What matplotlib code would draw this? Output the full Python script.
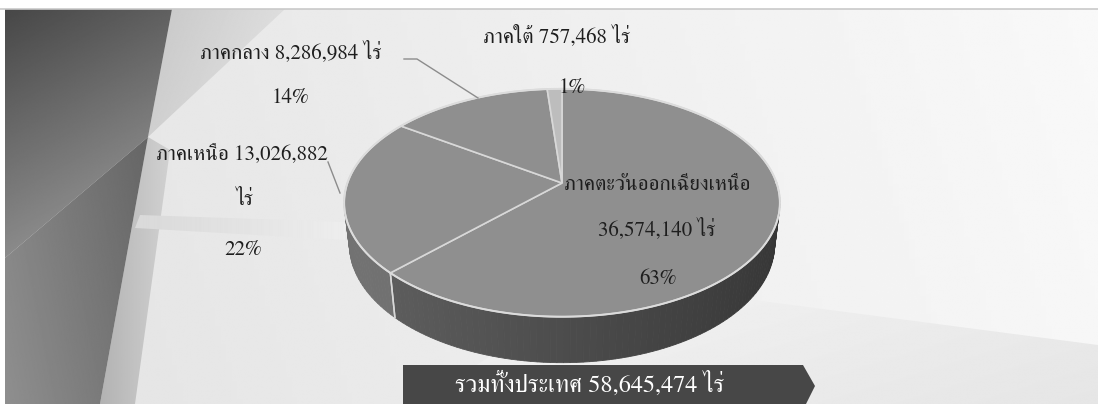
import numpy as np
import matplotlib
matplotlib.use("Agg")
import matplotlib.pyplot as plt
from matplotlib.patches import Polygon

plt.rcParams["font.family"] = ["FreeSerif", "DejaVu Sans"]

# rai of farmland per region (clockwise from 12 o'clock)
regions = ["ภาคตะวันออกเฉียงเหนือ", "ภาคเหนือ", "ภาคกลาง", "ภาคใต้"]
rai = [36574140, 13026882, 8286984, 757468]
pct_labels = ["63%", "22%", "14%", "1%"]
total_label = "รวมทั้งประเทศ"
unit = "ไร่"

W, H = 1098, 404
fig = plt.figure(figsize=(W / 100, H / 100), dpi=100)
fig.patch.set_facecolor("white")
ax = fig.add_axes([0, 0, 1, 1])


def gradient_poly(verts, c0, c1, direction, zorder=0):
    """Fill a polygon with a linear grey gradient running along `direction`."""
    verts = np.asarray(verts, dtype=float)
    poly = Polygon(verts, closed=True, facecolor="none", edgecolor="none")
    ax.add_patch(poly)
    x0, y0 = verts.min(axis=0)
    x1, y1 = verts.max(axis=0)
    gx, gy = np.meshgrid(np.linspace(x0, x1, 200), np.linspace(y0, y1, 200))
    d = np.asarray(direction, float)
    d /= np.hypot(*d)
    t = gx * d[0] + gy * d[1]
    t = (t - t.min()) / (t.max() - t.min())
    val = c0 + (c1 - c0) * t
    im = ax.imshow(val, cmap="gray", vmin=0, vmax=1, extent=(x0, x1, y1, y0),
                   origin="upper", interpolation="bilinear", zorder=zorder)
    im.set_clip_path(poly)


# background
gradient_poly([(5, 9), (W, 9), (W, H), (5, H)], 0.89, 0.975, (1, -0.3), zorder=0)
gradient_poly([(600, 280), (W, 345), (W, H), (420, H)], 0.955, 0.90, (0.3, 1), zorder=0.5)
gradient_poly([(172, 9), (285, 9), (148, 137)], 0.78, 0.90, (1, 0.4), zorder=1)
gradient_poly([(148, 137), (170, 150), (135, H), (100, H)], 0.70, 0.82, (1, 0), zorder=1)
gradient_poly([(140, 215), (345, 222), (345, 240), (135, 228)], 0.85, 0.93, (1, 0), zorder=1)
gradient_poly([(5, 9), (172, 9), (148, 137), (5, 258)], 0.28, 0.64, (0.55, 1), zorder=2)
gradient_poly([(5, 258), (148, 137), (100, H), (5, H)], 0.56, 0.40, (1, -0.2), zorder=2)
ax.plot([0, W], [8.5, 8.5], color="#c9c9c9", lw=1.2, zorder=3)

# projected 3-D pie
PHI = np.radians(31)
DIST = 4.94
THICK = 0.23
K = 1060
CX, CY = 562, 183


def project(theta_deg, z=0.0):
    th = np.radians(theta_deg)
    x, y = np.cos(th), np.sin(th)
    u = y * np.sin(PHI) + z * np.cos(PHI)
    w = DIST + y * np.cos(PHI) - z * np.sin(PHI)
    return CX + K * x / w, CY - K * u / w


fracs = np.array(rai) / sum(rai)
starts = 90 - 360 * np.concatenate([[0], np.cumsum(fracs)[:-1]])
ends = 90 - 360 * np.cumsum(fracs)

top_grey = ["#8f8f8f", "#8f8f8f", "#8f8f8f", "#bdbdbd"]
wall_range = [(0.21, 0.39), (0.40, 0.45), (0.45, 0.50), (0.6, 0.7)]
edge = "#d8d8d8"

# side walls
for i in range(len(rai)):
    lo, hi = max(ends[i], -180), min(starts[i], 0)
    if lo >= hi:
        continue
    steps = np.linspace(lo, hi, int((hi - lo) / 1.5) + 2)
    for a, b in zip(steps[:-1], steps[1:]):
        xa, ya = project(a)
        xb, yb = project(b)
        xc, yc = project(b, -THICK)
        xd, yd = project(a, -THICK)
        t = (1 - np.cos(np.radians((a + b) / 2))) / 2
        g = wall_range[i][0] + (wall_range[i][1] - wall_range[i][0]) * t
        ax.add_patch(Polygon([(xa, ya), (xb, yb), (xc, yc), (xd, yd)],
                             facecolor=str(g), edgecolor=str(g), lw=0.6, zorder=5))
    # light seam where two walls meet
    for ang in (lo, hi):
        if ang in (ends[i], starts[i]) and -180 < ang < 0:
            x0, y0 = project(ang)
            x1, y1 = project(ang, -THICK)
            ax.plot([x0, x1], [y0, y1], color=edge, lw=1.1, zorder=6)

# top faces
for i in range(len(rai)):
    angs = np.linspace(starts[i], ends[i], 200)
    xs, ys = project(angs)
    verts = [(CX, CY)] + list(zip(xs, ys))
    ax.add_patch(Polygon(verts, closed=True, facecolor=top_grey[i],
                         edgecolor=edge, lw=1.2, zorder=7))

# rim highlight
angs = np.linspace(0, 360, 400)
xs, ys = project(angs)
ax.plot(xs, ys, color="#dcdcdc", lw=1.4, zorder=8)

# data labels
fs = 15
txt = dict(ha="center", va="center", fontsize=fs, color="#1e1e1e", zorder=10)
ax.text(657, 185, regions[0], **txt)
ax.text(657, 229, f"{rai[0]:,} {unit}", **txt)
ax.text(658, 279, pct_labels[0], **txt)

ax.text(242, 155, f"{regions[1]} {rai[1]:,}", **txt)
ax.text(245, 200, unit, **txt)
ax.text(243, 250, pct_labels[1], **txt)

ax.text(291, 52, f"{regions[2]} {rai[2]:,} {unit}", **txt)
ax.text(290, 98, pct_labels[2], **txt)

ax.text(557, 36, f"{regions[3]} {rai[3]:,} {unit}", **txt)
ax.text(572, 88, pct_labels[3], **txt)

# leader lines
lead = dict(color="#8c8c8c", lw=1.0, zorder=9)
ax.plot([404, 417, 478], [59, 59, 98], **lead)
ax.plot([328, 340], [162, 193], **lead)

# total banner
ax.add_patch(Polygon([(403, 365), (803, 365), (815, 386), (803, 410), (403, 410)],
                     closed=True, facecolor="#474747", edgecolor="none", zorder=11))
ax.text(590, 384, f"{total_label} {sum(rai):,} {unit}", ha="center", va="center",
        fontsize=17.5, color="white", zorder=12)

ax.set_xlim(0, W)
ax.set_ylim(H, 0)
ax.set_aspect("auto")
ax.axis("off")
fig.savefig("out.png", dpi=100, facecolor="white")
